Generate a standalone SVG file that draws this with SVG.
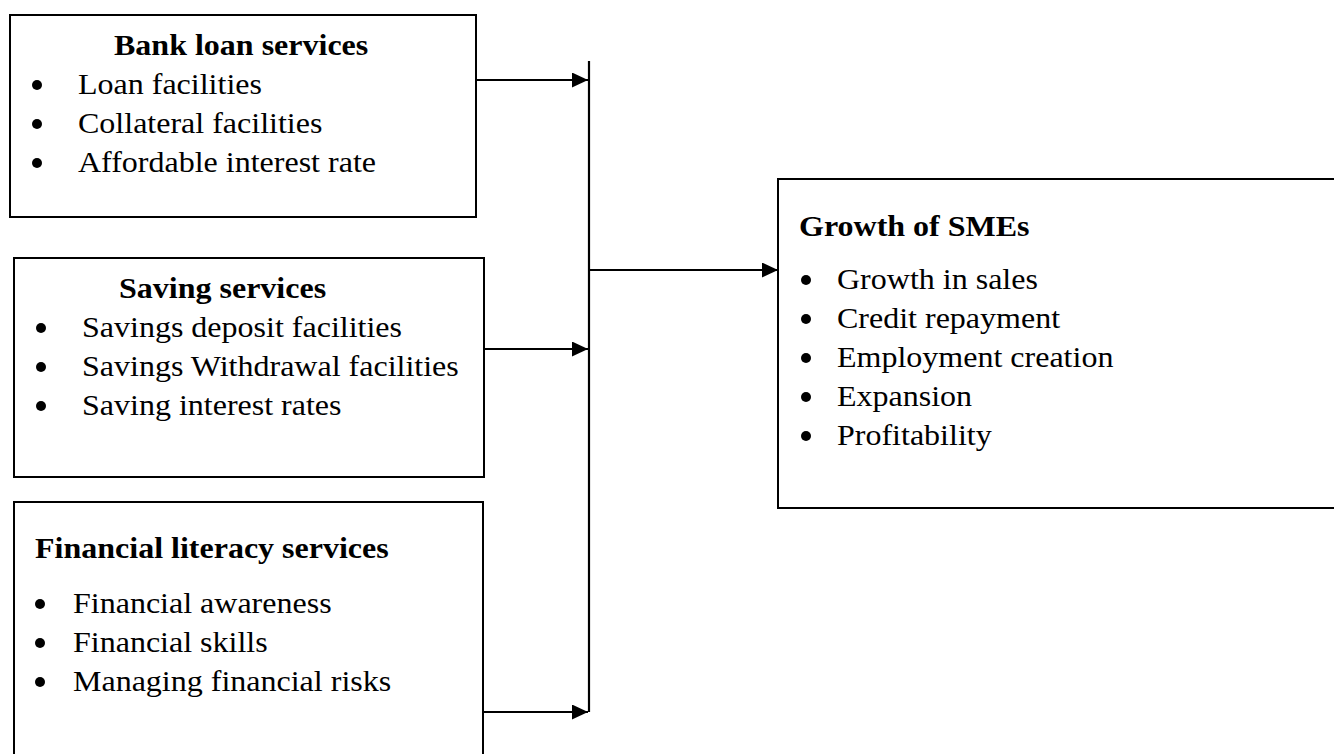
<svg xmlns="http://www.w3.org/2000/svg" width="1334" height="754" viewBox="0 0 1334 754">
  <style>
    .box { fill: #ffffff; stroke: #000000; stroke-width: 2; }
    .t { font-family: "Liberation Serif", "Times New Roman", serif; font-size: 30px; fill: #000000; }
    .b { font-weight: bold; }
    .dot { fill: #000000; }
    .wire { fill: none; stroke: #000000; stroke-width: 2.2; }
    .link { fill: none; stroke: #000000; stroke-width: 1.8; marker-end: url(#head); }
  </style>
  <defs>
    <marker id="head" markerUnits="userSpaceOnUse" markerWidth="16" markerHeight="15" refX="16" refY="7.5" orient="auto">
      <path d="M0,0 L16,7.5 L0,15 z" fill="#000000"/>
    </marker>
  </defs>
  <rect width="1334" height="754" fill="#ffffff"/>

  <!-- Bank loan services -->
  <g id="bank-loan">
    <rect class="box" x="10" y="15" width="466" height="202"/>
    <text class="t b" transform="translate(114 55) scale(1.067 1)">Bank loan services</text>
    <circle class="dot" cx="37" cy="85" r="5"/>
    <text class="t" transform="translate(78 94) scale(1.067 1)">Loan facilities</text>
    <circle class="dot" cx="37" cy="124" r="5"/>
    <text class="t" transform="translate(78 133) scale(1.067 1)">Collateral facilities</text>
    <circle class="dot" cx="37" cy="163" r="5"/>
    <text class="t" transform="translate(78 172) scale(1.067 1)">Affordable interest rate</text>
  </g>

  <!-- Saving services -->
  <g id="saving">
    <rect class="box" x="14" y="258" width="470" height="219"/>
    <text class="t b" transform="translate(119 298) scale(1.067 1)">Saving services</text>
    <circle class="dot" cx="41" cy="328" r="5"/>
    <text class="t" transform="translate(82 337) scale(1.067 1)">Savings deposit facilities</text>
    <circle class="dot" cx="41" cy="367" r="5"/>
    <text class="t" transform="translate(82 376) scale(1.067 1)">Savings Withdrawal facilities</text>
    <circle class="dot" cx="41" cy="406" r="5"/>
    <text class="t" transform="translate(82 415) scale(1.067 1)">Saving interest rates</text>
  </g>

  <!-- Financial literacy services -->
  <g id="literacy">
    <rect class="box" x="14" y="502" width="469" height="270"/>
    <text class="t b" transform="translate(35 558) scale(1.067 1)">Financial literacy services</text>
    <circle class="dot" cx="40" cy="604" r="5"/>
    <text class="t" transform="translate(73 613) scale(1.067 1)">Financial awareness</text>
    <circle class="dot" cx="40" cy="643" r="5"/>
    <text class="t" transform="translate(73 652) scale(1.067 1)">Financial skills</text>
    <circle class="dot" cx="40" cy="682" r="5"/>
    <text class="t" transform="translate(73 691) scale(1.067 1)">Managing financial risks</text>
  </g>

  <!-- Growth of SMEs -->
  <g id="growth">
    <rect class="box" x="778" y="179" width="580" height="329"/>
    <text class="t b" transform="translate(799 236) scale(1.067 1)">Growth of SMEs</text>
    <circle class="dot" cx="806" cy="280" r="5"/>
    <text class="t" transform="translate(837 289) scale(1.067 1)">Growth in sales</text>
    <circle class="dot" cx="806" cy="319" r="5"/>
    <text class="t" transform="translate(837 328) scale(1.067 1)">Credit repayment</text>
    <circle class="dot" cx="806" cy="358" r="5"/>
    <text class="t" transform="translate(837 367) scale(1.067 1)">Employment creation</text>
    <circle class="dot" cx="806" cy="397" r="5"/>
    <text class="t" transform="translate(837 406) scale(1.067 1)">Expansion</text>
    <circle class="dot" cx="806" cy="436" r="5"/>
    <text class="t" transform="translate(837 445) scale(1.067 1)">Profitability</text>
  </g>

  <!-- Connectors -->
  <g id="connectors">
    <line class="wire" x1="589" y1="61" x2="589" y2="712"/>
    <line class="link" x1="476" y1="80" x2="588" y2="80"/>
    <line class="link" x1="484" y1="349" x2="588" y2="349"/>
    <line class="link" x1="483" y1="712" x2="588" y2="712"/>
    <line class="link" x1="590" y1="270" x2="778" y2="270"/>
  </g>
</svg>
